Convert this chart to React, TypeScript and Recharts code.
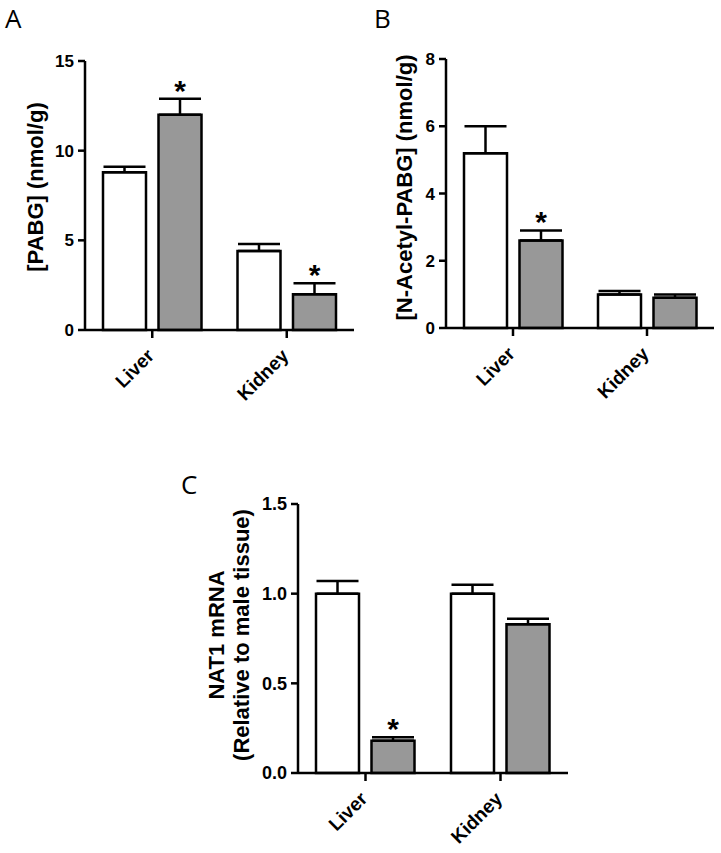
import React from 'react';
import { BarChart, Bar, XAxis, YAxis, ErrorBar, LabelList } from 'recharts';

const categories = ['Liver', 'Kidney'];

// A: [PABG] (nmol/g), male (white) vs female (grey)
const pabgMale = [8.8, 4.4];
const pabgMaleSem = [0.3, 0.4];
const pabgFemale = [12.0, 2.0];
const pabgFemaleSem = [0.9, 0.6];
const pabgSig = [true, true];
const pabgTicks = [0, 5, 10, 15];

// B: [N-Acetyl-PABG] (nmol/g)
const acetylMale = [5.2, 1.0];
const acetylMaleSem = [0.8, 0.1];
const acetylFemale = [2.6, 0.9];
const acetylFemaleSem = [0.3, 0.1];
const acetylSig = [true, false];
const acetylTicks = [0, 2, 4, 6, 8];

// C: NAT1 mRNA relative to male tissue
const natMale = [1.0, 1.0];
const natMaleSem = [0.07, 0.05];
const natFemale = [0.18, 0.83];
const natFemaleSem = [0.02, 0.03];
const natSig = [true, false];
const natTicks = [0, 0.5, 1.0, 1.5];

const FONT = '"Liberation Sans", Arial, Helvetica, sans-serif';
const GREY = '#989898';
const LINE = 2.5;

const buildRows = (male: number[], maleSem: number[], female: number[], femaleSem: number[]) =>
  categories.map((name, i) => ({
    name,
    male: male[i],
    maleErr: [0, maleSem[i]],
    female: female[i],
    femaleErr: [0, femaleSem[i]],
  }));

// asterisk sits above the error bar; px-per-unit taken from the bar itself
const starLabel = (sems: number[], sig: boolean[]) => (props: any) => {
  const { index, value } = props;
  if (!sig[index]) return null;
  const vb = props.viewBox ?? props;
  const x = Number(vb.x);
  const y = Number(vb.y);
  const w = Number(vb.width);
  const h = Number(vb.height);
  const top = y - sems[index] * (h / Number(value));
  return (
    <text x={x + w / 2} y={top + 2} textAnchor="middle" fontFamily={FONT} fontWeight="bold" fontSize={30} fill="#000">
      *
    </text>
  );
};

const XTick = (props: any) => {
  const { x, y, payload } = props;
  const ax = x + 3;
  const ay = y + 17;
  return (
    <text
      x={ax}
      y={ay}
      transform={`rotate(-45 ${ax} ${ay})`}
      textAnchor="end"
      fontFamily={FONT}
      fontWeight="bold"
      fontSize={19}
      fill="#000"
    >
      {payload.value}
    </text>
  );
};

const YTick = (props: any) => {
  const { x, y, payload, fmt, size } = props;
  const v = payload.value;
  return (
    <text x={x} y={y} dy="0.36em" textAnchor="end" fontFamily={FONT} fontWeight="bold" fontSize={size} fill="#000">
      {fmt ? fmt(v) : String(v)}
    </text>
  );
};

const yTitle = (lines: string[], xs: number[], dy: number) => (props: any) => {
  const vb = props.viewBox ?? { x: 0, y: 0, width: 0, height: 0 };
  const cy = vb.y + vb.height / 2 + dy;
  return (
    <g>
      {lines.map((t, i) => {
        const bx = vb.x + xs[i];
        return (
          <text
            key={t}
            x={bx}
            y={cy}
            transform={`rotate(-90 ${bx} ${cy})`}
            textAnchor="middle"
            fontFamily={FONT}
            fontWeight="bold"
            fontSize={22}
            fill="#000"
          >
            {t}
          </text>
        );
      })}
    </g>
  );
};

type PanelProps = {
  rows: any[];
  femaleSem: number[];
  sig: boolean[];
  ticks: number[];
  fmt?: (v: number) => string;
  tickFont: number;
  titles: string[];
  titleX: number[];
  titleDy: number;
  left: number;
  top: number;
  width: number;
  height: number;
  yWidth: number;
  xHeight: number;
  marginTop: number;
  marginRight: number;
};

const Panel = (p: PanelProps) => (
  <div style={{ position: 'absolute', left: p.left, top: p.top }}>
    <BarChart
      width={p.width}
      height={p.height}
      data={p.rows}
      margin={{ top: p.marginTop, right: p.marginRight, bottom: 0, left: 0 }}
      barCategoryGap={18}
      barGap={12.5}
    >
      <XAxis
        dataKey="name"
        height={p.xHeight}
        tickSize={8}
        tickMargin={2}
        axisLine={{ stroke: '#000', strokeWidth: LINE }}
        tickLine={{ stroke: '#000', strokeWidth: LINE }}
        tick={<XTick />}
        interval={0}
      />
      <YAxis
        width={p.yWidth}
        domain={[p.ticks[0], p.ticks[p.ticks.length - 1]]}
        ticks={p.ticks}
        tickSize={7}
        tickMargin={4}
        axisLine={{ stroke: '#000', strokeWidth: LINE }}
        tickLine={{ stroke: '#000', strokeWidth: LINE }}
        tick={<YTick fmt={p.fmt} size={p.tickFont} />}
        interval={0}
        label={yTitle(p.titles, p.titleX, p.titleDy)}
      />
      <Bar dataKey="male" fill="#ffffff" stroke="#000" strokeWidth={LINE} isAnimationActive={false}>
        <ErrorBar dataKey="maleErr" direction="y" width={21} stroke="#000" strokeWidth={LINE} />
      </Bar>
      <Bar dataKey="female" fill={GREY} stroke="#000" strokeWidth={LINE} isAnimationActive={false}>
        <ErrorBar dataKey="femaleErr" direction="y" width={21} stroke="#000" strokeWidth={LINE} />
        <LabelList dataKey="female" content={starLabel(p.femaleSem, p.sig)} />
      </Bar>
    </BarChart>
  </div>
);

export default function App() {
  const rowsA = buildRows(pabgMale, pabgMaleSem, pabgFemale, pabgFemaleSem);
  const rowsB = buildRows(acetylMale, acetylMaleSem, acetylFemale, acetylFemaleSem);
  const rowsC = buildRows(natMale, natMaleSem, natFemale, natFemaleSem);
  return (
    <div style={{ position: 'absolute', left: 0, top: 0, width: 721, height: 853, background: '#fff' }}>
      <Panel
        rows={rowsA}
        femaleSem={pabgFemaleSem}
        sig={pabgSig}
        ticks={pabgTicks}
        tickFont={17}
        titles={['[PABG] (nmol/g)']}
        titleX={[42.5]}
        titleDy={-8.5}
        left={0}
        top={0}
        width={360}
        height={440}
        yWidth={85}
        xHeight={110}
        marginTop={61}
        marginRight={6}
      />
      <Panel
        rows={rowsB}
        femaleSem={acetylFemaleSem}
        sig={acetylSig}
        ticks={acetylTicks}
        tickFont={17}
        titles={['[N-Acetyl-PABG] (nmol/g)']}
        titleX={[51.5]}
        titleDy={-6}
        left={360}
        top={0}
        width={361}
        height={440}
        yWidth={86}
        xHeight={112}
        marginTop={59}
        marginRight={7}
      />
      <Panel
        rows={rowsC}
        femaleSem={natFemaleSem}
        sig={natSig}
        ticks={natTicks}
        fmt={(v: number) => v.toFixed(1)}
        tickFont={18}
        titles={['NAT1 mRNA', '(Relative to male tissue)']}
        titleX={[54, 78.5]}
        titleDy={-3.5}
        left={170}
        top={460}
        width={410}
        height={393}
        yWidth={128}
        xHeight={80}
        marginTop={44}
        marginRight={12}
      />
      <svg width={721} height={853} style={{ position: 'absolute', left: 0, top: 0, pointerEvents: 'none' }}>
        <g fontFamily='"Open Sans", sans-serif' fontSize={26} fill="#000">
          <text x={5} y={28}>A</text>
          <text x={374} y={28}>B</text>
          <text x={181} y={494}>C</text>
        </g>
      </svg>
    </div>
  );
}
